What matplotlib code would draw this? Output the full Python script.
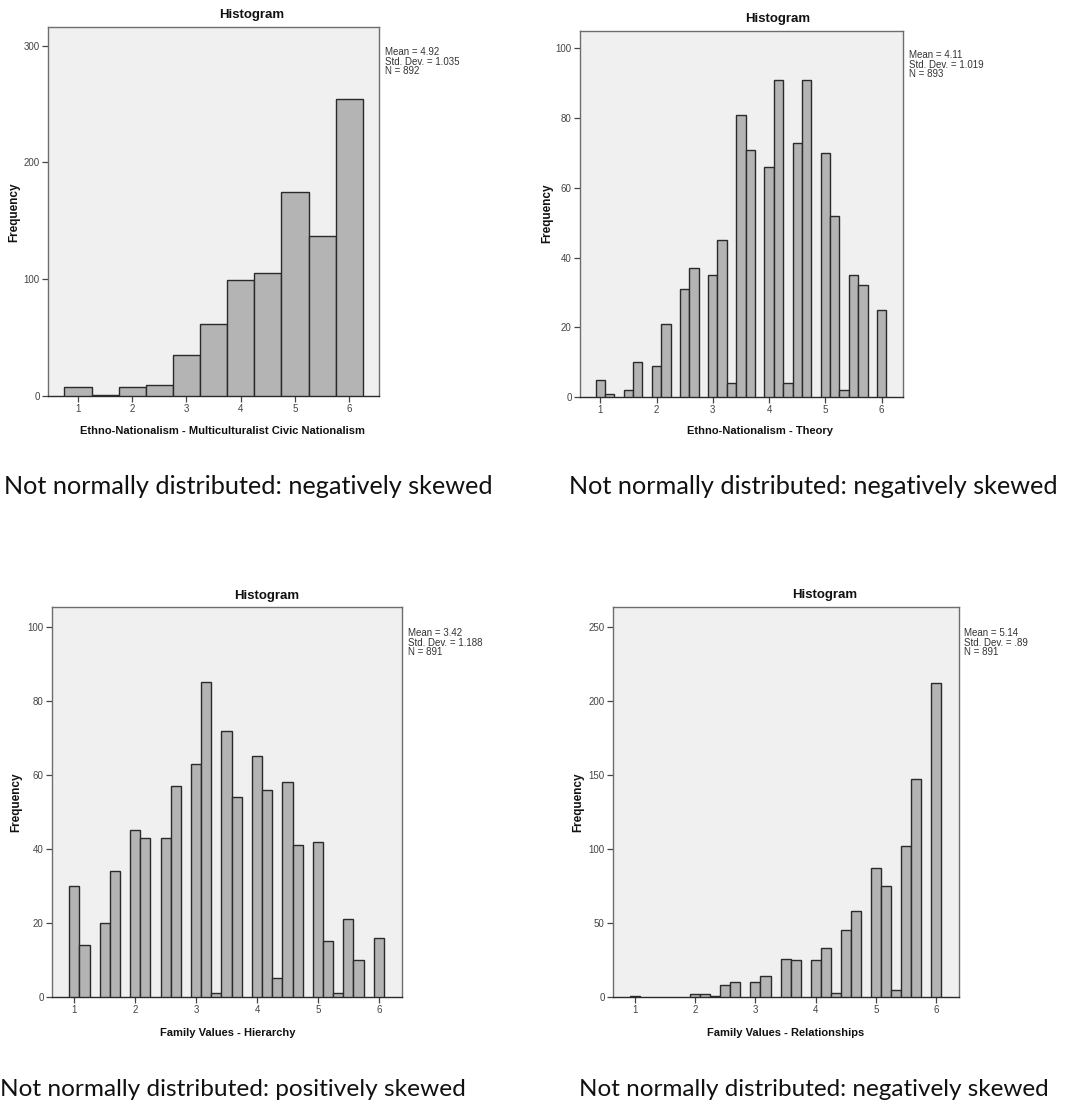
import numpy as np
import matplotlib
matplotlib.use("Agg")
import matplotlib.pyplot as plt

W, H = 1077, 1106

# ---- data ----
titles = ["Histogram", "Histogram", "Histogram", "Histogram"]
xlabels = ["Ethno-Nationalism - Multiculturalist Civic Nationalism",
           "Ethno-Nationalism - Theory",
           "Family Values - Hierarchy",
           "Family Values - Relationships"]
stats = [["Mean = 4.92", "Std. Dev. = 1.035", "N = 892"],
         ["Mean = 4.11", "Std. Dev. = 1.019", "N = 893"],
         ["Mean = 3.42", "Std. Dev. = 1.188", "N = 891"],
         ["Mean = 5.14", "Std. Dev. = .89", "N = 891"]]
captions = ["Not normally distributed: negatively skewed",
            "Not normally distributed: negatively skewed",
            "Not normally distributed: positively skewed",
            "Not normally distributed: negatively skewed"]

bins_half = [1, 1.5, 2, 2.5, 3, 3.5, 4, 4.5, 5, 5.5, 6]
counts1 = [8, 1, 8, 9, 35, 62, 99, 105, 175, 137, 254]

bins_sixth = list(1 + np.arange(31) / 6)
counts2 = [5, 1, 0, 2, 10, 0, 9, 21, 0, 31, 37, 0, 35, 45, 4, 81, 71, 0,
           66, 91, 4, 73, 91, 0, 70, 52, 2, 35, 32, 0, 25]
counts3 = [30, 14, 0, 20, 34, 0, 45, 43, 0, 43, 57, 0, 63, 85, 1, 72, 54, 0,
           65, 56, 5, 58, 41, 0, 42, 15, 1, 21, 10, 0, 16]
counts4 = [1, 0, 0, 0, 0, 0, 2, 2, 1, 8, 10, 0, 10, 14, 0, 26, 25, 0,
           25, 33, 3, 45, 58, 0, 87, 75, 5, 102, 147, 0, 212]

xticks = [1, 2, 3, 4, 5, 6]
yticks = [[0, 100, 200, 300], [0, 20, 40, 60, 80, 100],
          [0, 20, 40, 60, 80, 100], [0, 50, 100, 150, 200, 250]]

panels = [
    dict(x=bins_half, y=counts1, w=0.5, box=(48, 27, 379, 396),
         xlim=(0.446, 6.55), ylim=(0, 316)),
    dict(x=bins_sixth, y=counts2, w=1/6, box=(580, 31, 903, 397),
         xlim=(0.64, 6.38), ylim=(0, 105)),
    dict(x=bins_sixth, y=counts3, w=1/6, box=(52, 607, 402, 997),
         xlim=(0.634, 6.38), ylim=(0, 105.4)),
    dict(x=bins_sixth, y=counts4, w=1/6, box=(613, 607, 959, 997),
         xlim=(0.634, 6.38), ylim=(0, 263.5)),
]
title_pos = [(252, 15), (778, 19), (267, 596), (825, 595)]
stat_pos = [(385, 47), (909, 50), (408, 628), (964, 628)]
ylab_pos = [(14, 212), (547, 213), (16, 802), (578, 802)]
xlab_pos = [(223, 431), (760, 431), (228, 1033), (786, 1033)]
cap_pos = [(248, 486), (813, 486), (233, 1090), (814, 1090)]
cap_size = [18.2, 18.2, 17.6, 17.5]

fig = plt.figure(figsize=(W / 100, H / 100), dpi=100)
fig.patch.set_facecolor("white")

def fx(px):
    return px / W

def fy(py):
    return 1 - py / H

for i, p in enumerate(panels):
    x0, y0, x1, y1 = p["box"]
    ax = fig.add_axes([fx(x0), fy(y1), (x1 - x0) / W, (y1 - y0) / H])
    ax.set_facecolor("#F0F0F0")
    xs = np.array(p["x"], dtype=float)
    ys = np.array(p["y"], dtype=float)
    m = ys > 0
    ax.bar(xs[m], ys[m], width=p["w"], color="#B4B4B4", edgecolor="#2a2a2a",
           linewidth=1.0, zorder=3)
    ax.set_xlim(*p["xlim"])
    ax.set_ylim(*p["ylim"])
    ax.set_xticks(xticks)
    ax.set_yticks(yticks[i])
    for s in ax.spines.values():
        s.set_color("#6e6e6e")
        s.set_linewidth(1.0)
    ax.spines["bottom"].set_color("#2a2a2a")
    ax.tick_params(axis="both", direction="out", length=4, width=0.9,
                   color="#444444", labelsize=7, labelcolor="#444444", pad=2)
    for lab in ax.get_xticklabels() + ax.get_yticklabels():
        lab.set_family(["Liberation Sans Narrow", "Liberation Sans", "DejaVu Sans"])

    tx, ty = title_pos[i]
    fig.text(fx(tx), fy(ty), titles[i], ha="center", va="center",
             fontsize=9.5, fontweight="bold", family=["Liberation Sans", "DejaVu Sans"],
             color="#111111")
    sx, sy = stat_pos[i]
    fig.text(fx(sx), fy(sy), "\n".join(stats[i]), ha="left", va="top",
             fontsize=7, linespacing=0.95, color="#333333",
             family=["Liberation Sans Narrow", "Liberation Sans", "DejaVu Sans"])
    lx, ly = ylab_pos[i]
    fig.text(fx(lx), fy(ly), "Frequency", ha="center", va="center", rotation=90,
             fontsize=8.5, fontweight="bold", family=["Liberation Sans", "DejaVu Sans"],
             color="#111111")
    xx, xy = xlab_pos[i]
    fig.text(fx(xx), fy(xy), xlabels[i], ha="center", va="center",
             fontsize=8, fontweight="bold",
             family=["Liberation Sans Narrow", "Liberation Sans", "DejaVu Sans"],
             color="#111111")
    cx, cy = cap_pos[i]
    fig.text(fx(cx), fy(cy), captions[i], ha="center", va="center",
             fontsize=cap_size[i], family=["Lato", "Open Sans", "DejaVu Sans"],
             color="#111111")

fig.savefig("out.png", dpi=100, facecolor="white")
